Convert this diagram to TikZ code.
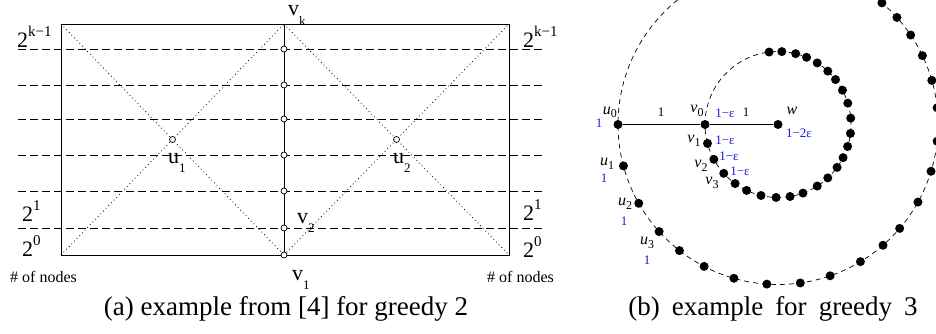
\documentclass[tikz,border=0pt]{standalone}
\usepackage{fontspec}
\setmainfont{Liberation Serif}
\usetikzlibrary{positioning,calc}

\definecolor{labblue}{RGB}{25,25,230}
\newcommand{\lowsub}[2]{#1\raisebox{-9.5pt}{\fontsize{13}{13}\selectfont #2}}
\newcommand{\highsup}[2]{#1\raisebox{11pt}{\fontsize{15}{15}\selectfont #2}}
\newcommand{\itsub}[2]{\textit{#1}\raisebox{-3.5pt}{\fontsize{12}{12}\selectfont #2}}

\tikzset{
  vtx/.style={circle,draw,fill=white,line width=0.7pt,inner sep=0pt,minimum size=6pt},
  spdot/.style={circle,fill=black,inner sep=0pt,minimum size=9pt},
  lvl/.style={line width=0.8pt,dash pattern=on 8pt off 4pt},
  diag/.style={line width=0.8pt,dash pattern=on 0.8pt off 3pt},
  bigtxt/.style={font=\fontsize{22}{22}\selectfont,inner sep=0pt,anchor=base west},
  smalltxt/.style={font=\fontsize{16}{16}\selectfont,inner sep=0pt},
  wtxt/.style={font=\fontsize{13}{13}\selectfont,inner sep=0pt},
  bluetxt/.style={font=\fontsize{13}{13}\selectfont,text=labblue,inner sep=0pt},
  captxt/.style={font=\fontsize{27}{27}\selectfont,inner sep=0pt,anchor=base}
}

\begin{document}
\begin{tikzpicture}[x=1pt,y=-1pt]
  \useasboundingbox (0,0) rectangle (936,334);
  % (a) greedy 2
  \coordinate (tl) at (61,24);
  \coordinate (tr) at (509,24);
  \coordinate (bl) at (61,255);
  \coordinate (br) at (509,255);
  \coordinate (vtop) at (284,24);
  \foreach \y in {49,85,119,155,191,228}
    \draw[lvl] (18,\y) -- (543,\y);
  \draw[line width=0.9pt] (tl) rectangle (br);
  \draw[diag] (tl) -- (284,255);
  \draw[diag] (bl) -- (vtop);
  \draw[diag] (vtop) -- (br);
  \draw[diag] (284,255) -- (tr);
  \node[vtx] (b0) at (284,255) {};
  \draw[line width=0.9pt] (vtop) -- (b0);
  \foreach \y [count=\i] in {228,191,155,119,85,49}
    \node[vtx] (b\i) at (284,\y) {};
  \node[vtx] (ua) at (172.5,139.5) {};
  \node[vtx] (ub) at (396.5,139.5) {};
  \node[bigtxt] (lk) at (17,48) {\highsup{2}{k−1}};
  \node[bigtxt] (l1) at (22,221) {\highsup{2}{1}};
  \node[bigtxt] (l0) at (22,256) {\highsup{2}{0}};
  \node[bigtxt] (rk) at (523,48) {\highsup{2}{k−1}};
  \node[bigtxt] (r1) at (523,220) {\highsup{2}{1}};
  \node[bigtxt] (r0) at (523,257) {\highsup{2}{0}};
  \node[bigtxt] (vk) at (288,16) {\lowsub{v}{k}};
  \node[bigtxt] (u1) at (168,163) {\lowsub{u}{1}};
  \node[bigtxt] (u2) at (393,163) {\lowsub{u}{2}};
  \node[bigtxt] (v2) at (297,223) {\lowsub{v}{2}};
  \node[bigtxt] (v1) at (292,280) {\lowsub{v}{1}};
  \node[smalltxt,anchor=base west] (nl) at (10,282) {\# of nodes};
  \node[smalltxt,anchor=base west] (nr) at (487,282) {\# of nodes};
  \node[captxt] (capa) at (286,315) {(a) example from [4] for greedy 2};

  % (b) greedy 3
  \coordinate (w) at (778,124.5);
  \draw[line width=0.7pt,dash pattern=on 5pt off 4pt] (w) circle (160pt);
  \draw[line width=0.7pt,dash pattern=on 5pt off 4pt] (w) circle (73pt);
  \node[spdot] (p0) at (618,124.5) {};
  \node[spdot] (q0) at (705,124.5) {};
  \node[spdot] (wd) at (w) {};
  \draw[line width=0.8pt] (p0) -- (q0) -- (wd);
  \foreach \a [count=\i] in {195,209.5,222,232,242.5,254,266,278,289,301,311,319.5,331,343,354,366,376,385.5,394,402,409.5}
    \node[spdot] (p\i) at ($(w)+(\a:160pt)$) {};
  \foreach \a [count=\i] in {195,208.5,222,234,244.5,256.5,268.5,279.5,290,302.5,313,324,333,342.5,353,365,377,388,398,407,417.5,427,436,447,457}
    \node[spdot] (q\i) at ($(w)+(\a:73pt)$) {};
  \node[smalltxt,anchor=south east] (lu0) at (617,118) {\itsub{u}{0}};
  \node[bluetxt] (cu0) at (599,123) {1};
  \node[wtxt] (e1) at (661,112) {1};
  \node[smalltxt] (lv0) at (697,111) {\itsub{v}{0}};
  \node[bluetxt] (cv0) at (725,113) {1−ε};
  \node[wtxt] (e2) at (746,112) {1};
  \node[smalltxt] (lw) at (792,111) {\textit{w}};
  \node[bluetxt] (cw) at (799,133) {1−2ε};
  \node[smalltxt] (lv1) at (694,141) {\itsub{v}{1}};
  \node[bluetxt] (cv1) at (725,140) {1−ε};
  \node[smalltxt] (lv2) at (701,166) {\itsub{v}{2}};
  \node[bluetxt] (cv2) at (729,156) {1−ε};
  \node[smalltxt] (lv3) at (712,183) {\itsub{v}{3}};
  \node[bluetxt] (cv3) at (740,171) {1−ε};
  \node[smalltxt] (lu1) at (607,164) {\itsub{u}{1}};
  \node[bluetxt] (cu1) at (604,178) {1};
  \node[smalltxt] (lu2) at (625,204) {\itsub{u}{2}};
  \node[bluetxt] (cu2) at (624,221) {1};
  \node[smalltxt] (lu3) at (647,243) {\itsub{u}{3}};
  \node[bluetxt] (cu3) at (647,260) {1};
  \node[captxt] (capb) at (773,315) {(b)\hspace{12pt}example\hspace{12pt}for\hspace{12pt}greedy\hspace{12pt}3};
\end{tikzpicture}
\end{document}
